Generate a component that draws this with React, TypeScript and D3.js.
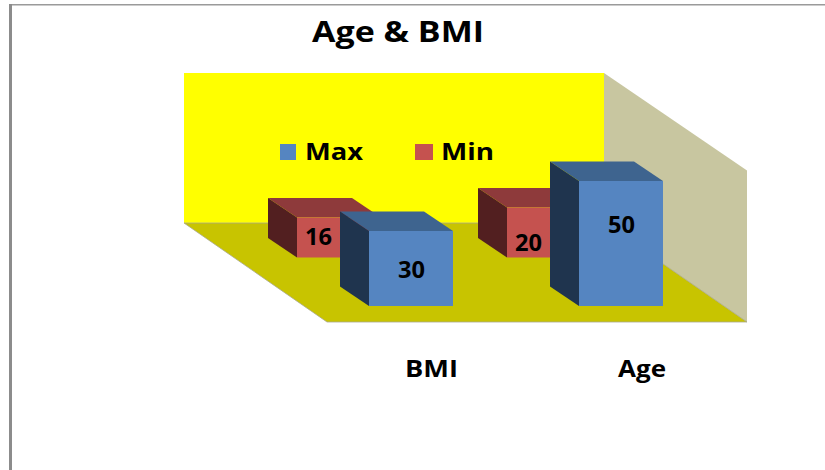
import React from "react";
import * as d3 from "d3";

const chartTitle = "Age & BMI";
const categories = ["BMI", "Age"];
const seriesNames = ["Max", "Min"];
const maxValues = [30, 50];
const minValues = [16, 20];
const axisMax = 60;

const FONT = "'Open Sans', sans-serif";
const TEXT_WEIGHT = 700;

// Oblique projection of the 3D box: wall at the back, floor running to the front.
const plot = { left: 327, right: 747, front: 322, depthX: 143, depthY: 99, wall: 150 };
const barDepth = { x: 29, y: 19.5 };
const barWidth = 84;

const xBand = d3.scaleBand<string>().domain(categories).range([plot.left, plot.right]);
const heightOf = d3.scaleLinear().domain([0, axisMax]).range([0, plot.wall]);
const points = (pts: [number, number][]) => pts.map((p) => p.join(",")).join(" ");

// Per-series look; the Min bars sit behind the Max bars, so their labels hug the visible part.
const styles = {
  Max: { front: "#5585c1", top: "#3e648f", side: "#1f344e", offset: 42, base: 306, values: maxValues, labelDx: 42, lift: [2.5, -18] },
  Min: { front: "#c5524f", top: "#8e3a3b", side: "#521f20", offset: -30, base: 257.5, values: minValues, labelDx: 21, lift: [0, 11] },
};

// The chart's text is horizontally stretched, so each run gets an explicit advance width.
function WideText({ x, y, w, size, children }: { x: number; y: number; w: number; size: number; children: React.ReactNode }) {
  return (
    <text
      x={x}
      y={y}
      textLength={w}
      lengthAdjust="spacingAndGlyphs"
      fontFamily={FONT}
      fontWeight={TEXT_WEIGHT}
      fontSize={size}
      fill="#000"
    >
      {children}
    </text>
  );
}

function Bar({ series, i }: { series: "Max" | "Min"; i: number }) {
  const s = styles[series];
  const v = s.values[i];
  const x0 = (xBand(categories[i]) as number) + s.offset;
  const x1 = x0 + barWidth;
  const yb = s.base;
  const yt = yb - heightOf(v);
  const dx = barDepth.x;
  const dy = barDepth.y;
  return (
    <g>
      <polygon fill={s.top} points={points([[x0, yt], [x1, yt], [x1 - dx, yt - dy], [x0 - dx, yt - dy]])} />
      <polygon fill={s.side} points={points([[x0, yt], [x0, yb], [x0 - dx, yb - dy], [x0 - dx, yt - dy]])} />
      <rect x={x0} y={yt} width={barWidth} height={yb - yt} fill={s.front} />
    </g>
  );
}

function BarLabel({ series, i }: { series: "Max" | "Min"; i: number }) {
  const s = styles[series];
  const v = s.values[i];
  const x0 = (xBand(categories[i]) as number) + s.offset;
  const yt = s.base - heightOf(v);
  const w = 27;
  return (
    <WideText x={x0 + s.labelDx - w / 2 + 0.5} y={(yt + s.base) / 2 + s.lift[i] + 7} w={w} size={23}>
      {v}
    </WideText>
  );
}

export default function App() {
  const backLeft = plot.left - plot.depthX;
  const backRight = plot.right - plot.depthX;
  const backY = plot.front - plot.depthY;
  const wallTop = backY - plot.wall;
  const legend = [
    { name: seriesNames[0], x: 280, w: 16, tx: 305, tw: 58, color: styles.Max.front },
    { name: seriesNames[1], x: 415, w: 18, tx: 441, tw: 53, color: styles.Min.front },
  ];
  const axisLabels = [
    { name: categories[0], x: 405, w: 53 },
    { name: categories[1], x: 618, w: 48 },
  ];
  return (
    <svg width={825} height={470} style={{ position: "absolute", left: 0, top: 0, background: "#fff" }}>
      <rect x={9} y={4} width={816} height={1.5} fill="#9a9a9a" />
      <rect x={9} y={4} width={3} height={466} fill="#8c8c8c" />

      <WideText x={312} y={42} w={172} size={28}>
        {chartTitle}
      </WideText>

      <rect x={backLeft} y={wallTop} width={plot.right - plot.left} height={plot.wall} fill="#ffff00" />
      <polygon
        fill="#c8c6a0"
        points={points([[backRight, wallTop], [plot.right, wallTop + plot.depthY - 1.5], [plot.right, plot.front], [backRight, backY]])}
      />
      <polygon
        fill="#c8c400"
        stroke="#a8a890"
        strokeWidth={0.8}
        points={points([[backLeft, backY], [backRight, backY], [plot.right, plot.front], [plot.left, plot.front]])}
      />

      <Bar series="Min" i={0} />
      <BarLabel series="Min" i={0} />
      <Bar series="Max" i={0} />
      <BarLabel series="Max" i={0} />
      <Bar series="Min" i={1} />
      <BarLabel series="Min" i={1} />
      <Bar series="Max" i={1} />
      <BarLabel series="Max" i={1} />

      {legend.map((l) => (
        <g key={l.name}>
          <rect x={l.x} y={144} width={l.w} height={16} fill={l.color} />
          <WideText x={l.tx} y={159.5} w={l.tw} size={23}>
            {l.name}
          </WideText>
        </g>
      ))}

      {axisLabels.map((a) => (
        <WideText key={a.name} x={a.x} y={377} w={a.w} size={23}>
          {a.name}
        </WideText>
      ))}
    </svg>
  );
}
